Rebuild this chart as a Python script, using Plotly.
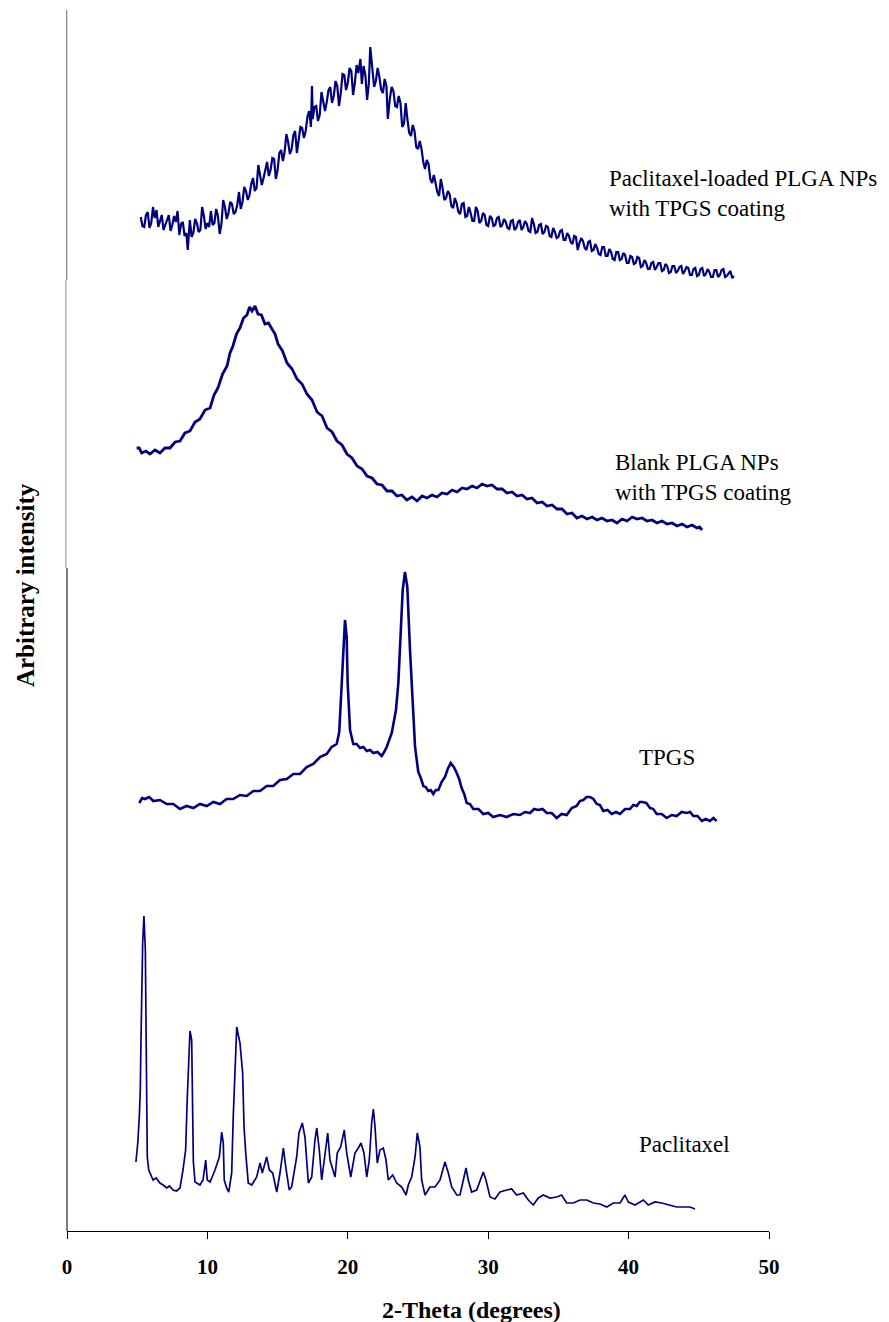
import plotly.graph_objects as go

# ---------------- data (2-Theta in degrees, arbitrary stacked intensity) ----------------
ptx_loaded_np = [
    (5.25, 1014), (5.375, 1005), (5.5, 1004), (5.625, 1016), (5.75, 1019), (5.875, 1003), (6.0, 1008),
    (6.125, 1024), (6.25, 1013), (6.375, 1021), (6.5, 1004), (6.625, 1009), (6.75, 1016), (6.875, 1001),
    (7.0, 1006), (7.125, 1013), (7.25, 1016), (7.375, 1000), (7.5, 1006), (7.625, 1015), (7.75, 1009),
    (7.875, 1020), (8.0, 996), (8.125, 1007), (8.25, 1009), (8.375, 995), (8.5, 998), (8.6, 981),
    (8.75, 1011), (8.875, 994), (9.0, 998), (9.125, 1012), (9.25, 1008), (9.375, 999), (9.5, 1001),
    (9.625, 1024), (9.75, 1015), (9.875, 1002), (10.0, 1008), (10.125, 1004), (10.25, 1020),
    (10.375, 1006), (10.5, 1008), (10.625, 1022), (10.75, 1015), (10.875, 997), (11.0, 1007),
    (11.125, 1031), (11.25, 1024), (11.375, 1012), (11.5, 1018), (11.625, 1029), (11.75, 1027),
    (11.875, 1017), (12.0, 1019), (12.125, 1026), (12.25, 1039), (12.375, 1022), (12.5, 1029),
    (12.625, 1044), (12.75, 1040), (12.875, 1031), (13.0, 1036), (13.125, 1047), (13.25, 1053),
    (13.375, 1040), (13.5, 1043), (13.625, 1066), (13.75, 1056), (13.875, 1046), (14.0, 1053),
    (14.125, 1062), (14.25, 1069), (14.375, 1055), (14.5, 1061), (14.625, 1073), (14.75, 1072),
    (14.875, 1052), (15.0, 1061), (15.125, 1078), (15.25, 1081), (15.375, 1070), (15.5, 1079),
    (15.625, 1097), (15.75, 1089), (15.875, 1077), (16.0, 1082), (16.125, 1096), (16.25, 1100),
    (16.375, 1078), (16.5, 1091), (16.625, 1104), (16.75, 1103), (16.875, 1093), (17.0, 1100),
    (17.125, 1114), (17.25, 1120), (17.375, 1104), (17.45, 1145), (17.5, 1112), (17.625, 1124),
    (17.75, 1125), (17.875, 1110), (18.0, 1116), (18.125, 1139), (18.25, 1131), (18.375, 1120),
    (18.5, 1129), (18.625, 1141), (18.75, 1144), (18.875, 1128), (19.0, 1135), (19.125, 1150),
    (19.25, 1145), (19.375, 1125), (19.5, 1138), (19.625, 1157), (19.75, 1156), (19.875, 1141),
    (20.0, 1148), (20.125, 1163), (20.25, 1160), (20.375, 1136), (20.5, 1148), (20.625, 1166),
    (20.75, 1158), (20.9, 1172), (21.0, 1147), (21.125, 1165), (21.25, 1156), (21.375, 1131),
    (21.5, 1148), (21.6, 1184), (21.75, 1162), (21.875, 1144), (22.0, 1150), (22.125, 1163),
    (22.25, 1154), (22.375, 1141), (22.5, 1138), (22.625, 1152), (22.75, 1145), (22.85, 1112),
    (23.0, 1133), (23.125, 1144), (23.25, 1140), (23.375, 1125), (23.5, 1124), (23.625, 1135),
    (23.75, 1128), (23.875, 1104), (24.0, 1107), (24.125, 1128), (24.25, 1111), (24.375, 1098),
    (24.5, 1095), (24.625, 1106), (24.75, 1100), (24.875, 1084), (25.0, 1082), (25.125, 1090),
    (25.25, 1082), (25.375, 1069), (25.5, 1062), (25.625, 1071), (25.75, 1067), (25.875, 1052),
    (26.0, 1048), (26.125, 1056), (26.25, 1048), (26.375, 1039), (26.5, 1035), (26.625, 1052),
    (26.75, 1043), (26.875, 1031), (27.0, 1033), (27.125, 1040), (27.25, 1037), (27.375, 1025),
    (27.5, 1023), (27.625, 1033), (27.75, 1028), (27.875, 1019), (28.0, 1017), (28.125, 1027),
    (28.25, 1028), (28.375, 1014), (28.5, 1015), (28.625, 1024), (28.75, 1018), (28.875, 1010),
    (29.0, 1010), (29.125, 1024), (29.25, 1020), (29.375, 1008), (29.5, 1010), (29.625, 1018),
    (29.75, 1016), (29.875, 1006), (30.0, 1005), (30.125, 1015), (30.25, 1013), (30.375, 1005),
    (30.5, 1006), (30.625, 1013), (30.75, 1014), (30.875, 1004), (31.0, 1006), (31.125, 1012),
    (31.25, 1009), (31.375, 1003), (31.5, 1002), (31.625, 1010), (31.75, 1011), (31.875, 1001),
    (32.0, 1003), (32.125, 1009), (32.25, 1011), (32.375, 1001), (32.5, 1004), (32.625, 1010),
    (32.75, 1007), (32.875, 1000), (33.0, 999), (33.125, 1013), (33.25, 1007), (33.375, 998),
    (33.5, 999), (33.625, 1006), (33.75, 1007), (33.875, 997), (34.0, 999), (34.125, 1005),
    (34.25, 1004), (34.375, 995), (34.5, 994), (34.625, 1003), (34.75, 999), (34.875, 993),
    (35.0, 994), (35.125, 1000), (35.25, 1001), (35.375, 991), (35.5, 991), (35.625, 998),
    (35.75, 995), (35.875, 989), (36.0, 987), (36.125, 995), (36.25, 994), (36.375, 981),
    (36.5, 988), (36.625, 993), (36.75, 990), (36.875, 983), (37.0, 981), (37.125, 989),
    (37.25, 990), (37.375, 980), (37.5, 981), (37.625, 987), (37.75, 983), (37.875, 977),
    (38.0, 976), (38.125, 984), (38.25, 984), (38.375, 975), (38.5, 975), (38.625, 982),
    (38.75, 979), (38.875, 972), (39.0, 971), (39.125, 979), (39.25, 979), (39.375, 971),
    (39.5, 972), (39.625, 978), (39.75, 976), (39.875, 968), (40.0, 968), (40.125, 975),
    (40.25, 974), (40.375, 967), (40.5, 968), (40.625, 974), (40.75, 973), (40.875, 964),
    (41.0, 965), (41.125, 971), (41.25, 968), (41.375, 962), (41.5, 962), (41.625, 968),
    (41.75, 969), (41.875, 961), (42.0, 964), (42.125, 968), (42.25, 968), (42.375, 960),
    (42.5, 961), (42.625, 967), (42.75, 965), (42.875, 958), (43.0, 959), (43.125, 965),
    (43.25, 965), (43.375, 958), (43.5, 960), (43.625, 964), (43.75, 965), (43.875, 957),
    (44.0, 960), (44.125, 964), (44.25, 963), (44.375, 956), (44.5, 956), (44.625, 962),
    (44.75, 963), (44.875, 955), (45.0, 956), (45.125, 962), (45.25, 963), (45.375, 955),
    (45.5, 957), (45.625, 962), (45.75, 959), (45.875, 954), (46.0, 954), (46.125, 961),
    (46.25, 961), (46.375, 954), (46.5, 956), (46.625, 961), (46.75, 962), (46.875, 954),
    (47.0, 955), (47.25, 960), (47.375, 953), (47.5, 955),
]

blank_np = [
    (4.96, 783), (5.14, 783), (5.32, 778), (5.62, 780), (5.91, 777), (6.27, 781), (6.62, 778),
    (6.98, 783), (7.34, 783), (7.7, 789), (8.05, 790), (8.4, 798), (8.76, 800), (9.12, 809),
    (9.47, 812), (9.83, 821), (10.19, 823), (10.47, 836), (10.75, 843), (11.08, 857), (11.4, 865),
    (11.61, 878), (11.82, 885), (12.07, 897), (12.32, 903), (12.57, 913), (12.82, 916), (13.0, 924),
    (13.18, 920), (13.39, 925), (13.6, 917), (13.85, 916), (14.1, 907), (14.35, 908), (14.6, 902),
    (14.82, 897), (15.03, 887), (15.35, 880), (15.67, 868), (16.03, 862), (16.38, 852), (16.74, 847),
    (17.09, 837), (17.45, 831), (17.81, 819), (18.17, 815), (18.52, 803), (18.88, 799), (19.23, 790),
    (19.59, 786), (19.94, 777), (20.3, 773), (20.66, 765), (21.02, 762), (21.37, 755), (21.73, 753),
    (22.08, 747), (22.44, 746), (22.79, 740), (23.15, 740), (23.5, 735), (23.85, 736), (24.2, 731),
    (24.57, 734), (24.93, 730), (25.29, 735), (25.64, 733), (26.0, 736), (26.35, 734), (26.71, 738),
    (27.07, 737), (27.43, 741), (27.78, 739), (28.14, 743), (28.49, 742), (28.85, 745), (29.2, 743),
    (29.56, 747), (29.91, 745), (30.27, 746), (30.63, 742), (30.99, 742), (31.34, 738), (31.7, 739),
    (32.05, 735), (32.41, 736), (32.76, 732), (33.12, 733), (33.48, 728), (33.84, 729), (34.19, 725),
    (34.55, 726), (34.9, 722), (35.26, 722), (35.61, 717), (35.97, 718), (36.32, 713), (36.68, 715),
    (37.04, 712), (37.4, 714), (37.75, 711), (38.11, 713), (38.46, 710), (38.82, 711), (39.17, 708),
    (39.53, 712), (39.89, 710), (40.25, 714), (40.6, 712), (40.96, 713), (41.31, 710), (41.67, 711),
    (42.02, 708), (42.38, 710), (42.74, 707), (43.1, 708), (43.45, 705), (43.81, 707), (44.16, 704),
    (44.52, 706), (44.87, 703), (45.05, 704), (45.23, 701),
]

tpgs = [
    (5.15, 428), (5.35, 433), (5.56, 432), (5.85, 434), (6.15, 430), (6.62, 431), (7.1, 427),
    (7.57, 427), (8.05, 422), (8.52, 425), (9.0, 423), (9.47, 427), (9.95, 425), (10.42, 429),
    (10.9, 427), (11.37, 432), (11.84, 432), (12.32, 436), (12.8, 435), (13.27, 440), (13.75, 440),
    (14.22, 445), (14.69, 445), (15.17, 451), (15.65, 452), (16.12, 457), (16.6, 457), (17.07, 464),
    (17.54, 467), (18.02, 474), (18.5, 477), (18.85, 484), (19.21, 487), (19.39, 499), (19.57, 548),
    (19.68, 584), (19.8, 611), (19.92, 594), (19.99, 548), (20.16, 501), (20.39, 487), (20.63, 487),
    (20.87, 483), (21.11, 484), (21.35, 480), (21.58, 481), (21.82, 478), (22.12, 479), (22.41, 475),
    (22.59, 479), (22.77, 484), (23.13, 498), (23.43, 521), (23.6, 548), (23.77, 598), (23.91, 641),
    (24.07, 659), (24.24, 644), (24.43, 581), (24.59, 531), (24.79, 484), (25.02, 459), (25.2, 453),
    (25.38, 445), (25.55, 444), (25.73, 440), (25.91, 441), (26.09, 437), (26.27, 441), (26.45, 441),
    (26.68, 449), (26.92, 454), (27.12, 462), (27.33, 468), (27.55, 464), (27.76, 458), (27.93, 452),
    (28.11, 443), (28.29, 437), (28.47, 428), (28.7, 427), (28.94, 422), (29.3, 422), (29.65, 417),
    (30.0, 418), (30.36, 414), (30.84, 416), (31.32, 414), (31.79, 417), (32.26, 416), (32.62, 419),
    (32.98, 418), (33.27, 422), (33.57, 421), (33.87, 422), (34.17, 418), (34.52, 418), (34.88, 413),
    (35.23, 417), (35.59, 416), (35.95, 423), (36.3, 425), (36.53, 430), (36.77, 431), (37.01, 434),
    (37.25, 434), (37.49, 432), (37.73, 427), (37.96, 426), (38.2, 420), (38.5, 421), (38.8, 417),
    (39.1, 419), (39.39, 417), (39.75, 422), (40.1, 422), (40.34, 426), (40.58, 425), (40.79, 429),
    (41.0, 429), (41.26, 428), (41.52, 423), (41.76, 422), (42.0, 417), (42.36, 417), (42.71, 413),
    (43.07, 416), (43.42, 415), (43.78, 419), (44.14, 418), (44.38, 419), (44.61, 415), (44.91, 415),
    (45.21, 410), (45.5, 412), (45.8, 410), (46.04, 413), (46.27, 410),
]

paclitaxel = [
    (4.91, 69), (5.04, 88), (5.15, 114), (5.22, 141), (5.27, 191), (5.39, 288), (5.48, 315),
    (5.58, 281), (5.68, 128), (5.72, 74), (5.82, 61), (6.13, 51), (6.35, 53), (6.62, 48), (6.85, 46),
    (7.1, 43), (7.3, 45), (7.55, 41), (7.8, 40), (8.05, 43), (8.26, 61), (8.45, 81), (8.57, 134),
    (8.69, 181), (8.76, 200), (8.88, 191), (8.95, 128), (9.0, 69), (9.12, 49), (9.47, 46),
    (9.69, 51), (9.88, 71), (9.99, 51), (10.19, 49), (10.54, 61), (10.85, 74), (11.02, 99),
    (11.13, 88), (11.2, 51), (11.37, 43), (11.52, 39), (11.73, 58), (11.84, 114), (11.97, 164),
    (12.09, 204), (12.2, 196), (12.32, 188), (12.51, 158), (12.61, 104), (12.73, 78), (12.91, 48),
    (13.16, 46), (13.51, 54), (13.75, 68), (13.91, 58), (14.22, 74), (14.41, 61), (14.65, 58),
    (14.94, 39), (15.17, 58), (15.41, 83), (15.58, 64), (15.83, 41), (16.0, 44), (16.36, 74),
    (16.52, 98), (16.76, 108), (16.95, 94), (17.19, 48), (17.43, 54), (17.66, 91), (17.79, 103),
    (17.97, 81), (18.14, 51), (18.38, 81), (18.57, 98), (18.73, 71), (19.09, 54), (19.25, 78),
    (19.49, 84), (19.75, 101), (19.92, 78), (20.21, 54), (20.51, 78), (20.75, 83), (20.94, 88),
    (21.15, 78), (21.35, 54), (21.53, 71), (21.7, 108), (21.82, 122), (21.94, 104), (22.1, 68),
    (22.29, 81), (22.53, 83), (22.72, 71), (22.88, 51), (23.2, 56), (23.48, 48), (23.84, 44),
    (24.15, 36), (24.31, 46), (24.55, 54), (24.79, 74), (24.95, 98), (25.14, 84), (25.26, 51),
    (25.5, 36), (25.85, 44), (26.21, 44), (26.57, 51), (26.92, 69), (27.16, 58), (27.4, 44),
    (27.76, 36), (27.99, 36), (28.23, 51), (28.42, 63), (28.58, 51), (28.82, 39), (29.18, 41),
    (29.42, 51), (29.65, 59), (29.84, 51), (30.13, 34), (30.48, 32), (30.84, 39), (31.32, 41),
    (31.67, 42), (32.03, 36), (32.5, 38), (32.86, 31), (33.21, 26), (33.57, 33), (33.92, 36),
    (34.4, 33), (34.88, 34), (35.23, 36), (35.59, 28), (36.06, 28), (36.54, 31), (37.02, 31),
    (37.49, 28), (37.96, 27), (38.44, 24), (38.91, 28), (39.39, 28), (39.74, 36), (39.98, 29),
    (40.46, 26), (41.05, 31), (41.4, 26), (41.88, 29), (42.36, 28), (42.95, 26), (43.43, 24),
    (43.9, 24), (44.37, 24), (44.73, 22),
]

series_labels = [
    "Paclitaxel-loaded PLGA NPs<br>with TPGS coating",
    "Blank PLGA NPs<br>with TPGS coating",
    "TPGS",
    "Paclitaxel",
]
label_pos = [(38.46, 1038), (38.89, 754), (40.6, 474), (40.6, 87)]
x_ticks = [0, 10, 20, 30, 40, 50]

# ---------------- figure ----------------
NAVY = "#00007f"
SERIF = "Liberation Serif"

fig = go.Figure()
for data, w in [(ptx_loaded_np, 2.2), (blank_np, 2.8), (tpgs, 2.6), (paclitaxel, 1.7)]:
    fig.add_trace(go.Scatter(
        x=[p[0] for p in data], y=[p[1] for p in data],
        mode="lines", line=dict(color=NAVY, width=w), hoverinfo="skip",
    ))

for text, (lx, ly) in zip(series_labels, label_pos):
    fig.add_annotation(x=lx, y=ly, xref="x", yref="y", text=text, showarrow=False,
                       xanchor="left", yanchor="middle", align="left",
                       font=dict(family=SERIF, size=23, color="black"))

# segmented vertical axis line (composite figure)
fig.add_shape(type="line", xref="paper", yref="paper", x0=-0.0004, x1=-0.0004, y0=0.7789, y1=1.0,
              line=dict(color="#666666", width=1))
fig.add_shape(type="line", xref="paper", yref="paper", x0=-0.0016, x1=-0.0016, y0=0.543, y1=0.7789,
              line=dict(color="#8c8c8c", width=1))
fig.add_shape(type="line", xref="paper", yref="paper", x0=0, x1=0, y0=0, y1=0.543,
              line=dict(color="black", width=1))

fig.add_annotation(x=0.5755, y=-0.0647, xref="paper", yref="paper", text="2-Theta (degrees)",
                   showarrow=False, xanchor="center", yanchor="middle",
                   font=dict(family=SERIF, size=24, color="black", weight="bold"))
fig.add_annotation(x=-0.0598, y=0.529, xref="paper", yref="paper", text="Arbitrary intensity",
                   showarrow=False, xanchor="center", yanchor="middle", textangle=-90,
                   font=dict(family=SERIF, size=25, color="black", weight="bold"))

fig.update_layout(
    width=889, height=1322,
    margin=dict(l=67, r=120, t=10, b=91),
    paper_bgcolor="white", plot_bgcolor="white",
    showlegend=False,
    xaxis=dict(range=[0, 50], tickvals=x_ticks, showline=True, linecolor="black", linewidth=1,
               ticks="outside", ticklen=7, tickwidth=1, tickcolor="black",
               showgrid=False, zeroline=False, ticklabelstandoff=10,
               tickfont=dict(family=SERIF, size=21, color="black", weight="bold")),
    yaxis=dict(range=[0, 1221], visible=False, showgrid=False, zeroline=False),
)

fig.write_html("out.html")
